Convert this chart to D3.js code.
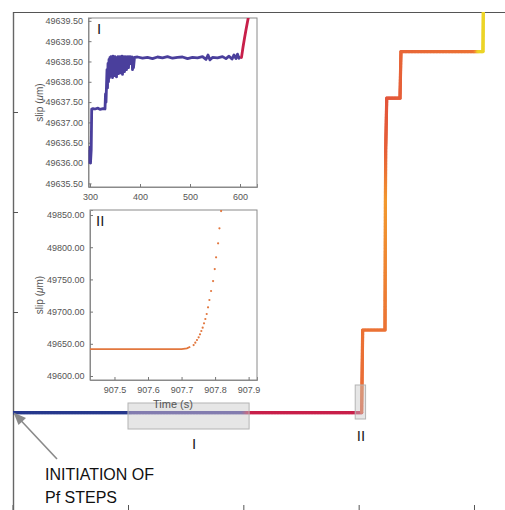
<!DOCTYPE html>
<html>
<head>
<meta charset="utf-8">
<script src="https://cdn.jsdelivr.net/npm/d3@7"></script>
<style>
  html, body { margin: 0; padding: 0; background: #fff; }
  svg { display: block; }
  text { font-family: "Liberation Sans", Arial, sans-serif; }
</style>
</head>
<body>
<svg id="chart" width="505" height="510"></svg>
<script>
// ---- Main record: slip (mm) against time (s), with a colour phase per vertex
const mainTime  = [0, 300, 310, 598, 615, 907.7, 907.8, 908.4, 910.4, 968.5, 969.2, 969.6, 970.3, 973, 1007.5, 1010, 1202, 1212, 1223.3, 1224.5];
const mainSlip  = [49.64, 49.64, 49.64, 49.64, 49.64, 49.64, 49.9, 60, 91, 91, 131, 156, 181, 206.9, 206.9, 230.2, 230.2, 230.2, 230.2, 256];
const mainPhase = [0, 0, 1, 1, 2, 2, 3.2, 3.8, 4, 4, 4.6, 5, 3.4, 3, 3.3, 3.6, 4, 6, 6, 6];
const mainXTicks = [300, 600, 900, 1200];
const mainYTicks = [50, 100, 150, 200, 250];

// Highlighted windows on the main record (time range, slip range in mm)
const windowNames = ["I", "II"];
const windowT0 = [300, 891];
const windowT1 = [615, 918];
const windowS0 = [41.5, 46.5];
const windowS1 = [54.5, 63.5];

// ---- Inset I: slip (µm) from 297 s to ~617 s
const insetITime = [297, 298, 300, 301, 302.4, 303.4, 306, 310, 316, 320, 326, 330, 331, 332,
  333, 334, 335, 336, 337, 338, 339, 340, 341, 342, 343, 344, 345, 346, 347, 348, 349, 350,
  351, 352, 353, 354, 355, 356, 357, 358, 359, 360, 361, 362, 363, 364, 365, 366, 367, 368,
  369, 370, 371, 372, 373, 374, 375, 376, 377, 378, 379, 380, 382, 384, 385, 386, 387, 389,
  395, 405, 415, 425, 435, 445, 455, 465, 475, 485, 495, 505, 515, 525, 532, 536, 540, 545,
  555, 565, 572, 578, 584, 588, 592, 595, 598, 601];
const insetISlip = [49636.32, 49636.02, 49636.39, 49636.0, 49636.32, 49637.33, 49637.34, 49637.33, 49637.35, 49637.32, 49637.34, 49637.33, 49637.7, 49637.5,
  49637.9, 49638.3, 49637.85, 49638.45, 49638.0, 49638.55, 49638.1, 49638.6, 49638.15, 49638.62, 49638.2, 49638.6, 49638.1, 49638.63, 49638.3, 49638.6, 49638.15, 49638.62,
  49638.25, 49638.6, 49638.12, 49638.6, 49638.3, 49638.62, 49638.2, 49638.6, 49638.35, 49638.62, 49638.22, 49638.6, 49638.3, 49638.63, 49638.18, 49638.6, 49638.4, 49638.62,
  49638.25, 49638.6, 49638.45, 49638.62, 49638.3, 49638.6, 49638.42, 49638.62, 49638.35, 49638.6, 49638.5, 49638.62, 49638.45, 49638.61, 49638.3, 49638.6, 49638.35, 49638.6,
  49638.61, 49638.58, 49638.6, 49638.57, 49638.61, 49638.59, 49638.62, 49638.58, 49638.6, 49638.61, 49638.57, 49638.6, 49638.59, 49638.62, 49638.55, 49638.66, 49638.54, 49638.6,
  49638.59, 49638.62, 49638.57, 49638.63, 49638.56, 49638.66, 49638.57, 49638.68, 49638.58, 49638.62];
const insetIRiseTime = [601, 603, 606, 609, 612, 615, 618];
const insetIRiseSlip = [49638.62, 49638.6, 49638.85, 49639.07, 49639.28, 49639.48, 49639.66];
const insetIXTicks = [300, 400, 500, 600];
const insetIYTicks = [49635.5, 49636.0, 49636.5, 49637.0, 49637.5, 49638.0, 49638.5, 49639.0, 49639.5];

// ---- Inset II: slip (µm) around 907.7 s
const insetIIFlatTime = [907.427, 907.70, 907.716, 907.726];
const insetIIFlatSlip = [49641.9, 49641.9, 49643.0, 49645.5];
const insetIIDotTime = [907.736, 907.741, 907.746, 907.751, 907.755, 907.759, 907.763, 907.767, 907.771, 907.775, 907.779, 907.783, 907.788, 907.794, 907.799, 907.803, 907.809, 907.813, 907.818];
const insetIIDotSlip = [49648.1, 49651.7, 49655.9, 49660.1, 49664.7, 49669.9, 49675.0, 49681.8, 49688.5, 49696.3, 49706.7, 49718.0, 49732.0, 49747.5, 49766.1, 49784.3, 49806.1, 49829.3, 49856.2];
const insetIIXTicks = [907.5, 907.6, 907.7, 907.8, 907.9];
const insetIIYTicks = [49600, 49650, 49700, 49750, 49800, 49850];

const svg = d3.select("#chart");

// ================= Main panel =================
const x = d3.scaleLinear().domain([0, 1300]).range([12.67, 12.67 + 1300 * 0.38444]);
const y = d3.scaleLinear().domain([50, 250]).range([412, 12]);
const frameRight = 520, frameBottom = 511;

svg.append("defs").append("clipPath").attr("id", "mainClip")
  .append("rect").attr("x", 13).attr("y", 12).attr("width", frameRight - 13).attr("height", frameBottom - 12);

// frame lines
svg.append("line").attr("x1", 13).attr("x2", frameRight).attr("y1", 12.5).attr("y2", 12.5)
  .attr("stroke", "#555").attr("stroke-width", 1.2);

const bottomAxis = svg.append("g").attr("transform", `translate(0,${frameBottom})`)
  .call(d3.axisBottom(x).tickValues(mainXTicks).tickSize(-6).tickFormat(""));
const leftAxis = svg.append("g").attr("transform", "translate(13,0)")
  .call(d3.axisLeft(y).tickValues(mainYTicks).tickSize(-5).tickFormat(""));
[bottomAxis, leftAxis].forEach(g => {
  g.select(".domain").attr("stroke", "#666").attr("stroke-width", 1.4);
  g.selectAll(".tick line").attr("stroke", "#555").attr("stroke-width", 1);
});
leftAxis.select(".domain").attr("d", `M0.5,12V${frameBottom}`);

// colour ramp along the record
const phaseColor = d3.scaleLinear()
  .domain([0, 1, 2, 3, 4, 5, 6])
  .range(["#27398d", "#4b3f9c", "#c81f4a", "#e3543a", "#eb7235", "#f2992e", "#ecd427"])
  .interpolate(d3.interpolateRgb);

const mainG = svg.append("g").attr("clip-path", "url(#mainClip)");
const pieces = [];
for (let i = 0; i < mainTime.length - 1; i++) {
  const ax = x(mainTime[i]), ay = y(mainSlip[i]);
  const bx = x(mainTime[i + 1]), by = y(mainSlip[i + 1]);
  const n = Math.max(1, Math.ceil(Math.hypot(bx - ax, by - ay) / 1.5));
  for (let k = 0; k < n; k++) {
    const f0 = k / n, f1 = (k + 1) / n, fm = (k + 0.5) / n;
    pieces.push({
      x1: ax + (bx - ax) * f0, y1: ay + (by - ay) * f0,
      x2: ax + (bx - ax) * f1, y2: ay + (by - ay) * f1,
      c: phaseColor(mainPhase[i] + (mainPhase[i + 1] - mainPhase[i]) * fm)
    });
  }
}
mainG.selectAll("line.seg").data(pieces).join("line")
  .attr("class", "seg")
  .attr("x1", d => d.x1).attr("y1", d => d.y1)
  .attr("x2", d => d.x2).attr("y2", d => d.y2)
  .attr("stroke", d => d.c).attr("stroke-width", 3.2).attr("stroke-linecap", "round");

// highlighted windows
windowNames.forEach((name, i) => {
  svg.append("rect")
    .attr("x", x(windowT0[i])).attr("y", y(windowS1[i]))
    .attr("width", x(windowT1[i]) - x(windowT0[i]))
    .attr("height", y(windowS0[i]) - y(windowS1[i]))
    .attr("fill", "#c8c8c8").attr("fill-opacity", 0.45)
    .attr("stroke", "#b4b4b4").attr("stroke-width", 1);
});
svg.append("text").attr("x", 194).attr("y", 449).attr("text-anchor", "middle")
  .attr("font-size", 15).attr("fill", "#222").text("I");
svg.append("text").attr("x", 361).attr("y", 441).attr("text-anchor", "middle")
  .attr("font-size", 15).attr("fill", "#222").text("II");

// annotation arrow
svg.append("line").attr("x1", 57).attr("y1", 459).attr("x2", 20).attr("y2", 419.5)
  .attr("stroke", "#8a8a8a").attr("stroke-width", 1.6);
svg.append("path").attr("d", "M13.5,412.5 L26,418 L18.5,425 Z").attr("fill", "#8a8a8a");
const note = svg.append("text").attr("font-size", 16).attr("fill", "#111");
note.append("tspan").attr("x", 45).attr("y", 480).text("INITIATION OF");
note.append("tspan").attr("x", 45).attr("y", 503).text("Pf STEPS");

// ================= Inset helper =================
function drawInset(cfg) {
  const g = svg.append("g");
  const [x0, x1] = cfg.xs.range(), [y0, y1] = cfg.ys.range();
  g.append("rect").attr("x", x0).attr("y", y1).attr("width", x1 - x0).attr("height", y0 - y1)
    .attr("fill", "#fff").attr("stroke", "#8a8a8a").attr("stroke-width", 1);
  const ax = g.append("g").attr("transform", `translate(0,${y0})`)
    .call(d3.axisBottom(cfg.xs).tickValues(cfg.xt).tickSize(-3).tickPadding(7).tickFormat(cfg.xf));
  const ay = g.append("g").attr("transform", `translate(${x0},0)`)
    .call(d3.axisLeft(cfg.ys).tickValues(cfg.yt).tickSize(-3).tickPadding(5.5).tickFormat(d3.format(".2f")));
  [ax, ay].forEach(a => {
    a.select(".domain").attr("stroke", "#8a8a8a");
    a.selectAll(".tick line").attr("stroke", "#777");
    a.selectAll(".tick text").attr("font-size", 9).attr("fill", "#555")
      .attr("font-family", "Liberation Sans, Arial, sans-serif");
  });
  const t = g.append("text")
    .attr("transform", `translate(${cfg.titleX},${(y0 + y1) / 2}) rotate(-90)`)
    .attr("text-anchor", "middle").attr("font-size", 10).attr("fill", "#555");
  t.append("tspan").text("slip (");
  t.append("tspan").attr("font-style", "italic").text("\u03bc");
  t.append("tspan").text("m)");
  g.append("text").attr("x", cfg.labelX).attr("y", y1 + 16).attr("font-size", 15)
    .attr("fill", "#222").text(cfg.label);
  const clipId = "clip" + cfg.label;
  g.append("clipPath").attr("id", clipId).append("rect")
    .attr("x", x0).attr("y", y1).attr("width", x1 - x0).attr("height", y0 - y1);
  return g.append("g").attr("clip-path", `url(#${clipId})`);
}

// ================= Inset I =================
const xI = d3.scaleLinear().domain([297, 634]).range([88.5, 257]);
const yI = d3.scaleLinear().domain([49635.41, 49639.57]).range([187, 18]);
const plotI = drawInset({ xs: xI, ys: yI, xt: insetIXTicks, yt: insetIYTicks, xf: d3.format("d"),
  titleX: 43, label: "I", labelX: 97 });
const lineI = d3.line().x(d => xI(d[0])).y(d => yI(d[1]));
plotI.append("path").datum(insetITime.map((t, i) => [t, insetISlip[i]]))
  .attr("d", lineI).attr("fill", "none").attr("stroke", "#4a3f9c")
  .attr("stroke-width", 2.8).attr("stroke-linejoin", "round");
plotI.append("path").datum(insetIRiseTime.map((t, i) => [t, insetIRiseSlip[i]]))
  .attr("d", lineI).attr("fill", "none").attr("stroke", "#c81f4a")
  .attr("stroke-width", 2.8).attr("stroke-linejoin", "round");

// ================= Inset II =================
const xII = d3.scaleLinear().domain([907.427, 907.925]).range([90, 257]);
const yII = d3.scaleLinear().domain([49593.8, 49857.8]).range([380, 210]);
const plotII = drawInset({ xs: xII, ys: yII, xt: insetIIXTicks, yt: insetIIYTicks, xf: d3.format(".1f"),
  titleX: 43, label: "II", labelX: 96 });
plotII.append("path").datum(insetIIFlatTime.map((t, i) => [t, insetIIFlatSlip[i]]))
  .attr("d", d3.line().x(d => xII(d[0])).y(d => yII(d[1])))
  .attr("fill", "none").attr("stroke", "#e2773e").attr("stroke-width", 1.8);
plotII.selectAll("circle").data(insetIIDotTime.map((t, i) => [t, insetIIDotSlip[i]])).join("circle")
  .attr("cx", d => xII(d[0])).attr("cy", d => yII(d[1])).attr("r", 1.1).attr("fill", "#e2773e");
svg.append("text").attr("x", 173).attr("y", 408).attr("text-anchor", "middle")
  .attr("font-size", 11).attr("fill", "#555").text("Time (s)");
</script>
</body>
</html>
